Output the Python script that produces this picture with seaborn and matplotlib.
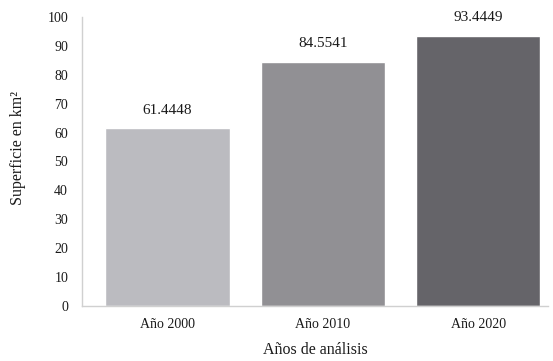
import pandas as pd
import matplotlib
matplotlib.use("Agg")
import matplotlib.pyplot as plt
import seaborn as sns

# Chart data
years = ["Año 2000", "Año 2010", "Año 2020"]
surface = [61.4448, 84.5541, 93.4449]
bar_colors = ["#bbbbc0", "#919094", "#656469"]
y_ticks = [0, 10, 20, 30, 40, 50, 60, 70, 80, 90, 100]

df = pd.DataFrame({"year": years, "surface": surface})

sns.set_style("white")
plt.rcParams["font.family"] = ["Liberation Serif", "DejaVu Serif"]

fig = plt.figure(figsize=(5.53, 3.61), dpi=100)
ax = fig.add_axes([82 / 553, 55 / 361, 466 / 553, 289 / 361])

sns.barplot(data=df, x="year", y="surface", hue="year", palette=bar_colors,
            width=0.8, legend=False, ax=ax, saturation=1)

# value labels above each bar
for i, v in enumerate(surface):
    ax.text(i, v + 4, f"{v:.4f}", ha="center", va="bottom", fontsize=11, color="#1a1a1a")

ax.set_ylim(0, 100)
ax.set_xlim(-0.55, 2.45)
ax.set_yticks(y_ticks)
ax.set_yticklabels([str(t) for t in y_ticks], fontsize=10, color="#1a1a1a")
ax.tick_params(axis="x", labelsize=10, colors="#1a1a1a", length=0, pad=9)
ax.tick_params(axis="y", length=0, pad=10)

ax.set_xlabel("Años de análisis", fontsize=11.5, color="#1a1a1a")
ax.set_ylabel("Superficie en km²", fontsize=11.5, color="#1a1a1a")
ax.xaxis.set_label_coords(0.5, -0.125)
ax.yaxis.set_label_coords(-0.12, 0.545)

for side in ["top", "right"]:
    ax.spines[side].set_visible(False)
for side in ["left", "bottom"]:
    ax.spines[side].set_color("#d0d0d0")
    ax.spines[side].set_linewidth(1)

fig.savefig("out.png", dpi=100)
